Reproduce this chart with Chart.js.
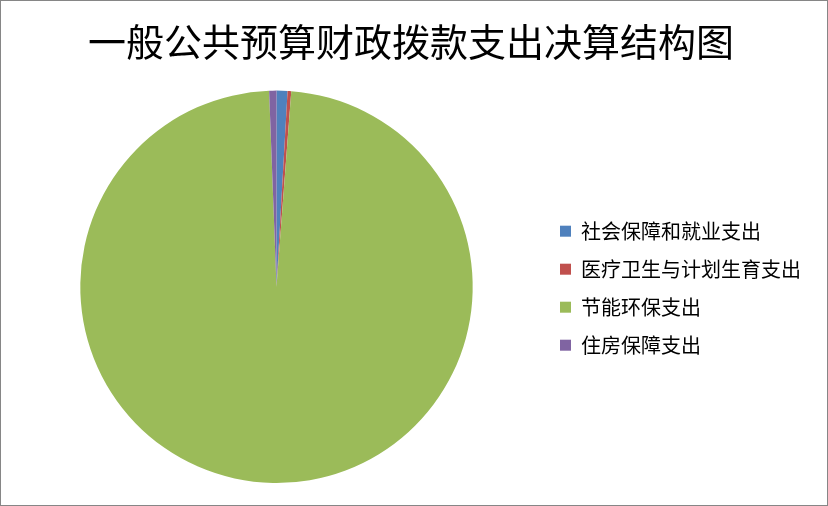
<!DOCTYPE html>
<html lang="zh">
<head>
    <meta charset="UTF-8">
    <title>一般公共预算财政拨款支出决算结构图</title>
    <script src="https://cdn.jsdelivr.net/npm/chart.js"></script>
    <style>
        html, body {
            margin: 0;
            padding: 0;
            background: #fff;
        }

        #chart-container {
            width: 828px;
            height: 506px;
            box-sizing: border-box;
            border: 1px solid #868686;
        }
    </style>
</head>
<body>
    <div id="chart-container">
        <canvas id="budgetChart" width="826" height="504"></canvas>
    </div>

    <script>
        const TITLE = '一般公共预算财政拨款支出决算结构图';

        // categories and their share of the total (%)
        const categories = ['社会保障和就业支出', '医疗卫生与计划生育支出', '节能环保支出', '住房保障支出'];
        const shares = [0.9, 0.3, 98.2, 0.6];
        const colors = ['#4F81BD', '#C0504D', '#9BBB59', '#8064A2'];

        const ctx = document.getElementById('budgetChart').getContext('2d');

        new Chart(ctx, {
            type: 'pie',
            data: {
                labels: categories,
                datasets: [{
                    data: shares,
                    backgroundColor: colors,
                    borderWidth: 0
                }]
            },
            options: {
                responsive: false,
                animation: false,
                layout: {
                    padding: { left: 10, right: 16, top: 0, bottom: 22 }
                },
                plugins: {
                    title: {
                        display: true,
                        text: TITLE,
                        color: '#000',
                        font: { family: '"Noto Sans CJK SC"', size: 38, weight: 'normal' },
                        padding: { top: 18, bottom: 26 }
                    },
                    legend: {
                        position: 'right',
                        title: {
                            // empty title, only used to push the items down
                            display: true,
                            text: ' ',
                            font: { size: 12 },
                            padding: { top: 78, bottom: 0 }
                        },
                        labels: {
                            color: '#000',
                            font: { family: '"Noto Sans CJK SC"', size: 20 },
                            boxWidth: 11,
                            boxHeight: 11,
                            padding: 18
                        }
                    },
                    tooltip: { enabled: false }
                }
            }
        });
    </script>
</body>
</html>
